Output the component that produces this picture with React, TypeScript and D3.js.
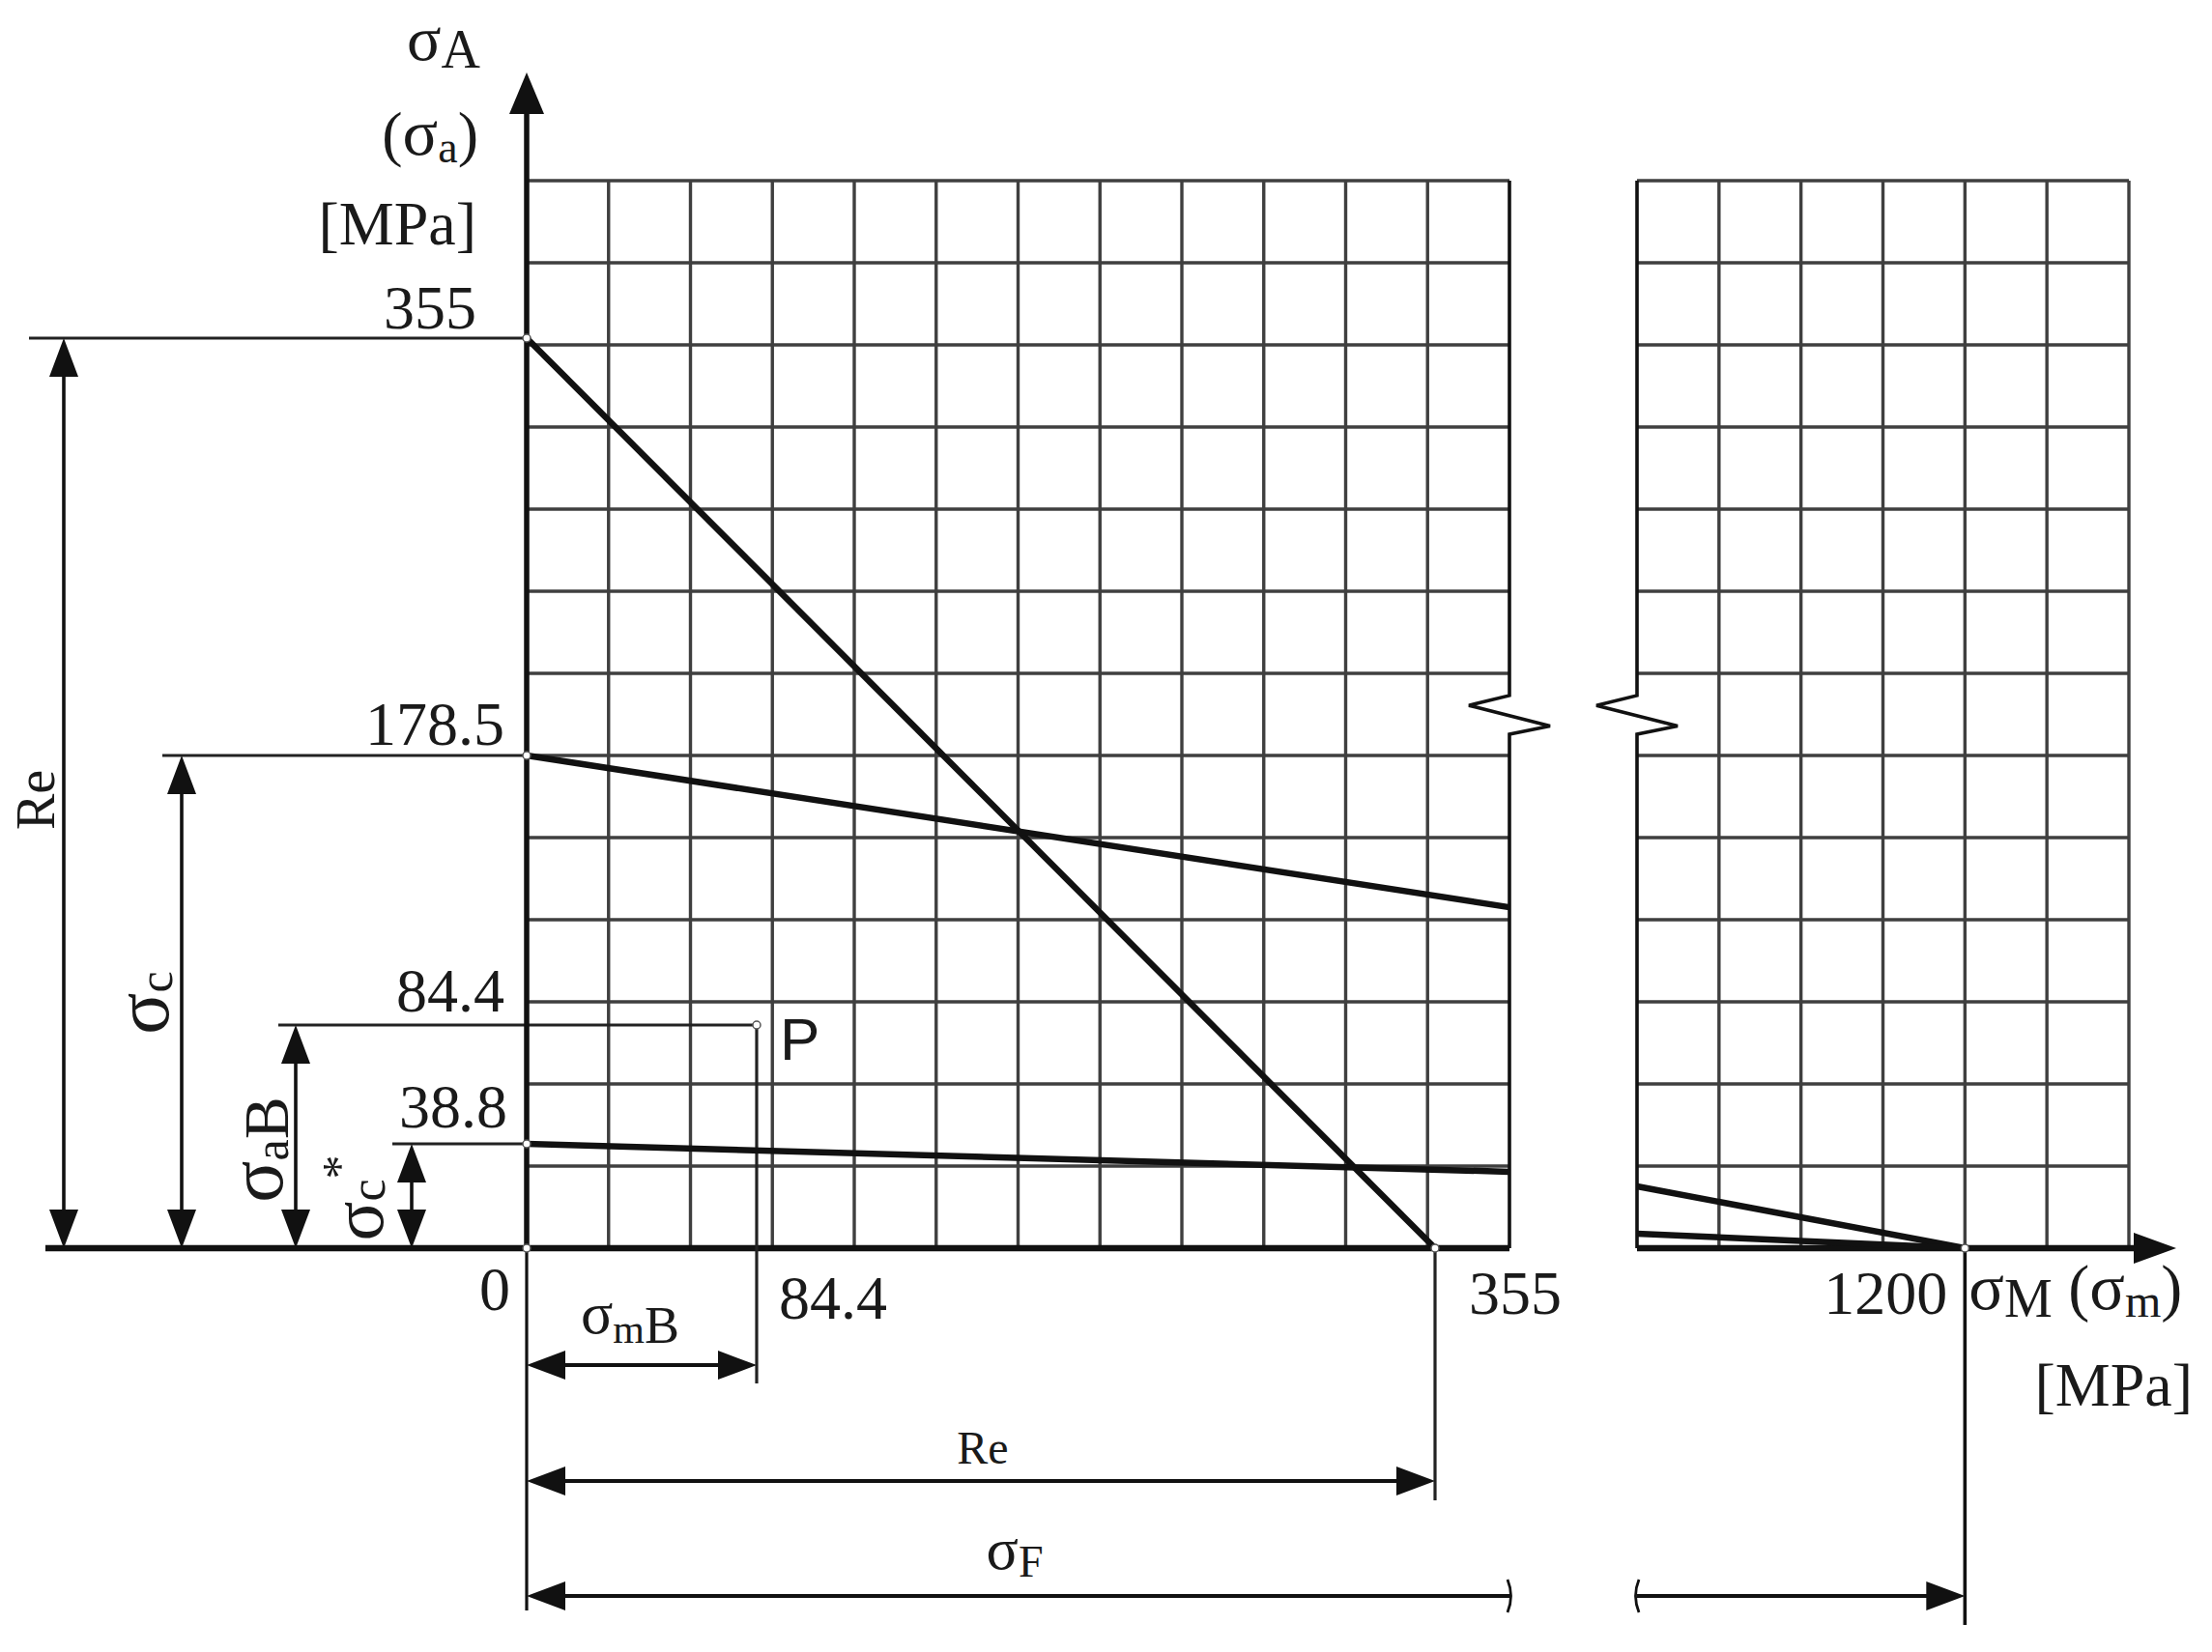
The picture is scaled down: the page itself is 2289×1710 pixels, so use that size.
import React, { useEffect, useRef } from 'react';
import * as d3 from 'd3';

// stresses in MPa
const yTickValues = [355, 178.5, 84.4, 38.8];
const yTickLabels = ['355', '178.5', '84.4', '38.8'];
const xTickValues = [0, 84.4, 355];
const xTickLabels = ['0', '84.4', '355'];
const farTickValue = 1200;
const farTickLabel = '1200';

const yieldLine = [[0, 355], [355, 0]];
const goodmanLeft = [[0, 178.5], [385, 125.5]];
const goodmanRight = [[1080, 23], [1200, 0]];
const reducedLeft = [[0, 38.8], [385, 28.4]];
const reducedRight = [[1080, 5.4], [1200, 0]];
const pointP = [84.4, 84.4];

const leftCols = 12;
const rightCols = 6;
const gridRows = 13;

// layout only
const yTickOffsets = [[-52, -10], [-23, -11], [-23, -14], [-20, -17]];
const serif = '"Liberation Serif", "Times New Roman", serif';

const Haigh = () => {
  const ref = useRef(null);

  useEffect(() => {
    if (!ref.current) return;
    const svg = d3.select(ref.current);
    svg.selectAll('*').remove();

    const x = d3.scaleLinear().domain([0, 84.4, 355, 385]).range([545, 783, 1485, 1562]);
    const xR = d3.scaleLinear().domain([1080, 1260]).range([1694, 2203]);
    const y = d3.scaleLinear().domain([0, 38.8, 84.4, 178.5, 355]).range([1292, 1184, 1061, 782, 350]);
    const gx = d3.scaleLinear().domain([0, leftCols]).range([545, 1562]);
    const gxR = d3.scaleLinear().domain([0, rightCols]).range([1694, 2203]);
    const gy = d3.scaleLinear().domain([0, gridRows]).range([1292, 187]);

    const ink = '#111';
    const gridInk = '#3f3f3f';

    // grid
    const grid = svg.append('g').attr('stroke', gridInk).attr('stroke-width', 3.4);
    d3.range(1, gridRows + 1).forEach((r) => {
      grid.append('line').attr('x1', gx(0)).attr('x2', gx(leftCols)).attr('y1', gy(r)).attr('y2', gy(r));
      grid.append('line').attr('x1', gxR(0)).attr('x2', gxR(rightCols)).attr('y1', gy(r)).attr('y2', gy(r));
    });
    d3.range(1, leftCols).forEach((c) => {
      grid.append('line').attr('x1', gx(c)).attr('x2', gx(c)).attr('y1', gy(0)).attr('y2', gy(gridRows));
    });
    d3.range(1, rightCols + 1).forEach((c) => {
      grid.append('line').attr('x1', gxR(c)).attr('x2', gxR(c)).attr('y1', gy(0)).attr('y2', gy(gridRows));
    });

    // broken edges with zigzag
    const zig = (ex) => {
      const p = d3.path();
      p.moveTo(ex, gy(gridRows));
      p.lineTo(ex, gy(6.73));
      p.lineTo(ex - 42, gy(6.61));
      p.lineTo(ex + 42, gy(6.36));
      p.lineTo(ex, gy(6.26));
      p.lineTo(ex, gy(0));
      return p.toString();
    };
    svg.append('path').attr('d', zig(gx(leftCols))).attr('fill', 'none').attr('stroke', ink).attr('stroke-width', 3.6);
    svg.append('path').attr('d', zig(gxR(0))).attr('fill', 'none').attr('stroke', ink).attr('stroke-width', 3.6);

    const tri = (tx, ty, dir, len = 40, half = 15) => {
      const [dx, dy] = { up: [0, -1], down: [0, 1], left: [-1, 0], right: [1, 0] }[dir];
      const bx = tx - dx * len;
      const by = ty - dy * len;
      return `M${tx},${ty}L${bx - dy * half},${by + dx * half}L${bx + dy * half},${by - dx * half}Z`;
    };
    const arrow = (tx, ty, dir, len?, half?) =>
      svg.append('path').attr('d', tri(tx, ty, dir, len, half)).attr('fill', ink);
    const seg = (x1, y1, x2, y2, w = 3, c = ink) =>
      svg.append('line').attr('x1', x1).attr('y1', y1).attr('x2', x2).attr('y2', y2)
        .attr('stroke', c).attr('stroke-width', w);

    // vertical dimensions on the left
    const dims = [
      { v: 355, dx: 66, ext: 36 },
      { v: 178.5, dx: 188, ext: 20 },
      { v: 84.4, dx: 306, ext: 18 },
      { v: 38.8, dx: 426, ext: 20 },
    ];
    dims.forEach(({ v, dx, ext }) => {
      seg(dx - ext, y(v), v === pointP[1] ? x(pointP[0]) : x(0), y(v), 3.2, '#222');
      seg(dx, y(v) + 30, dx, y(0) - 30, 3.6);
      arrow(dx, y(v), 'up');
      arrow(dx, y(0), 'down');
    });

    // axes
    seg(47, y(0), gx(leftCols), y(0), 6.5);
    seg(gxR(0), y(0), 2212, y(0), 6.5);
    arrow(2252, y(0), 'right', 44, 16);
    seg(x(0), y(0), x(0), 114, 5.5);
    arrow(x(0), 75, 'up', 43, 18);
    seg(x(0), y(0), x(0), 1667, 3.2);

    // extension lines below the axis
    seg(x(pointP[0]), y(pointP[1]), x(pointP[0]), 1432, 3.2, '#222');
    seg(x(355), y(0), x(355), 1553, 3.2, '#222');
    seg(xR(farTickValue), y(0), xR(farTickValue), 1682, 3.6);

    // horizontal dimensions
    const hdim = (yy, x1, x2, a1, a2) => {
      seg(x1 + (a1 ? 30 : 0), yy, x2 - (a2 ? 30 : 0), yy, 3.8);
      if (a1) arrow(x1, yy, 'left');
      if (a2) arrow(x2, yy, 'right');
    };
    hdim(1413, x(0), x(pointP[0]), true, true);
    hdim(1533, x(0), x(355), true, true);
    hdim(1652, x(0), gx(leftCols), true, false);
    hdim(1652, gxR(0), xR(farTickValue), false, true);
    svg.append('path').attr('d', `M${gx(leftCols) - 2},1635Q${gx(leftCols) + 5},1652 ${gx(leftCols) - 2},1669`)
      .attr('fill', 'none').attr('stroke', ink).attr('stroke-width', 2.8);
    svg.append('path').attr('d', `M${gxR(0) + 2},1635Q${gxR(0) - 5},1652 ${gxR(0) + 2},1669`)
      .attr('fill', 'none').attr('stroke', ink).attr('stroke-width', 2.8);

    // characteristic lines
    const lineL = d3.line().x((d) => x(d[0])).y((d) => y(d[1]));
    const lineR = d3.line().x((d) => xR(d[0])).y((d) => y(d[1]));
    [yieldLine, goodmanLeft, reducedLeft].forEach((d) =>
      svg.append('path').attr('d', lineL(d)).attr('fill', 'none').attr('stroke', ink).attr('stroke-width', 6.5));
    [goodmanRight, reducedRight].forEach((d) =>
      svg.append('path').attr('d', lineR(d)).attr('fill', 'none').attr('stroke', ink).attr('stroke-width', 6.5));

    // marker points
    const pts = [
      [x(0), y(355)], [x(0), y(178.5)], [x(0), y(38.8)], [x(0), y(0)],
      [x(pointP[0]), y(pointP[1])], [x(355), y(0)], [xR(farTickValue), y(0)],
    ];
    pts.forEach(([px, py]) =>
      svg.append('circle').attr('cx', px).attr('cy', py).attr('r', 4)
        .attr('fill', '#fff').attr('stroke', '#555').attr('stroke-width', 1.5));

    // text
    const label = (tx, ty, parts, anchor = 'start', rotate = false, family = serif) => {
      const t = svg.append('text').attr('text-anchor', anchor).attr('font-family', family).attr('fill', '#1a1a1a');
      if (rotate) t.attr('transform', `translate(${tx},${ty}) rotate(-90)`);
      else t.attr('x', tx).attr('y', ty);
      parts.forEach(([s, size, dy]) => t.append('tspan').attr('font-size', size).attr('dy', dy || 0).text(s));
    };

    label(497, 62, [['σ', 66], ['A', 56, 8]], 'end');
    label(495, 160, [['(', 64], ['σ', 68], ['a', 46, 8], [')', 64, -8]], 'end');
    label(493, 253, [['[MPa]', 64]], 'end');

    yTickValues.forEach((v, i) => {
      const [ox, oy] = yTickOffsets[i];
      label(x(0) + ox, y(v) + oy, [[yTickLabels[i], 64]], 'end');
    });

    label(x(xTickValues[0]) - 17, 1356, [[xTickLabels[0], 64]], 'end');
    label(x(xTickValues[1]) + 23, 1365, [[xTickLabels[1], 64]]);
    label(x(xTickValues[2]) + 35, 1360, [[xTickLabels[2], 64]]);
    label(xR(farTickValue) - 18, 1360, [[farTickLabel, 64]], 'end');
    label(xR(farTickValue) + 4, 1355, [['σ', 68], ['M', 56, 8], [' (', 66, -8], ['σ', 68], ['m', 48, 8], [')', 66, -8]]);
    label(2269, 1455, [['[MPa]', 64]], 'end');

    label(x(pointP[0]) + 24, y(pointP[1]) + 36, [['P', 62]], 'start', false, '"Liberation Sans", Arial, sans-serif');

    label((x(0) + x(pointP[0])) / 2 - 12, 1380, [['σ', 62], ['m', 42, 10], ['B', 54]], 'middle');
    label((x(0) + x(355)) / 2 + 2, 1515, [['Re', 48]], 'middle');
    label(1050, 1624, [['σ', 62], ['F', 46, 8]], 'middle');

    label(56, 828, [['Re', 56]], 'middle', true);
    label(174, 1038, [['σ', 80], ['c', 50, 4]], 'middle', true);
    label(292, 1190, [['σ', 80], ['a', 50, 6], ['B', 66]], 'middle', true);
    label(396, 1240, [['σ', 76], ['c', 52, 2], ['*', 50, -30]], 'middle', true);
  }, []);

  return (
    <svg ref={ref} width={2289} height={1710} style={{ position: 'absolute', left: 0, top: 0, background: '#fff' }} />
  );
};

export default function App() {
  return <Haigh />;
}
